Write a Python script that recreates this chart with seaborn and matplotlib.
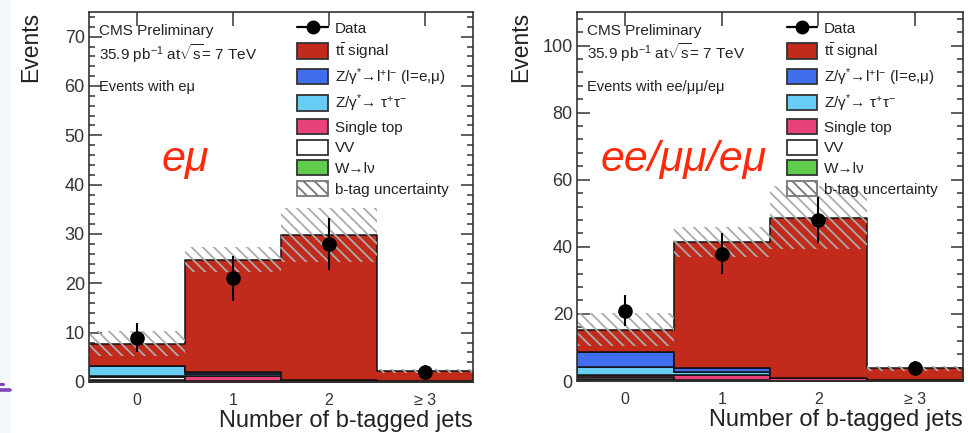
import numpy as np
import pandas as pd
import matplotlib
matplotlib.use("Agg")
import matplotlib.pyplot as plt
import seaborn as sns
from matplotlib.patches import Patch, Rectangle
from matplotlib.lines import Line2D
from matplotlib.ticker import MultipleLocator, FixedLocator

# ---------------- data ----------------
categories = ["0", "1", "2", "≥ 3"]
bins = [0, 1, 2, 3]
processes = ["tt", "Zll", "Ztt", "single", "VV", "W"]   # top -> bottom of stack
proc_labels = [r"t$\bar{\mathrm{t}}$ signal",
               r"Z/γ$^{*}$→l$^{+}$l$^{-}$ (l=e,μ)",
               r"Z/γ$^{*}$→ τ$^{+}$τ$^{-}$",
               "Single top", "VV", "W→lν"]
proc_colors = ["#c22a1b", "#3f6fee", "#67cdf5", "#e8417c", "#ffffff", "#5fcd4b"]

# left panel (e mu)
emu_tt = [4.5, 22.85, 29.3, 2.05]
emu_Zll = [0.15, 0.3, 0.0, 0.0]
emu_Ztt = [1.9, 0.5, 0.05, 0.0]
emu_single = [0.25, 0.9, 0.4, 0.1]
emu_VV = [0.6, 0.2, 0.05, 0.05]
emu_W = [0.4, 0.05, 0.0, 0.0]
emu_unc = [2.6, 2.5, 5.4, 0.4]
emu_data = [9, 21, 28, 2]
emu_err = [3.0, 4.6, 5.3, 1.4]

# right panel (ee/mumu/emu)
all_tt = [6.8, 37.55, 47.7, 3.55]
all_Zll = [4.4, 1.3, 0.1, 0.05]
all_Ztt = [2.3, 0.8, 0.05, 0.0]
all_single = [0.5, 1.5, 0.8, 0.15]
all_VV = [0.7, 0.3, 0.05, 0.05]
all_W = [0.6, 0.05, 0.0, 0.0]
all_unc = [4.9, 4.5, 9.3, 0.7]
all_data = [21, 38, 48, 4]
all_err = [4.6, 6.2, 6.9, 2.0]

# ---------------- style ----------------
sns.set_style("ticks")
plt.rcParams["font.family"] = ["Liberation Sans", "DejaVu Sans"]
plt.rcParams["mathtext.fontset"] = "custom"
plt.rcParams["mathtext.rm"] = "Liberation Sans"
plt.rcParams["mathtext.it"] = "Liberation Sans:italic"
plt.rcParams["mathtext.bf"] = "Liberation Sans:bold"
plt.rcParams["hatch.linewidth"] = 1.3

TXT = "#222222"
HATCH = "#ababab"

fig = plt.figure(figsize=(9.68, 4.33), dpi=100)
W, H = 968, 433

# slide-like strip on the left edge
fig.add_artist(Rectangle((0, 0), 10 / W, 1, transform=fig.transFigure,
                         facecolor="#f3f8fa", edgecolor="none", zorder=0))
fig.add_artist(Line2D([0, 10 / W], [1 - 390 / H, 1 - 390 / H], transform=fig.transFigure,
                      color="#7b44b8", lw=2.6))
fig.add_artist(Line2D([0, 3 / W], [1 - 384 / H, 1 - 384 / H], transform=fig.transFigure,
                      color="#7b44b8", lw=2.2))


def panel(rect, stacks, unc, data, err, ymax, major, minor, channel_txt, big_txt,
          big_x, ylab_x):
    ax = fig.add_axes(rect)
    df = pd.DataFrame({
        "bin": np.tile(bins, len(processes)),
        "process": np.repeat(processes, len(bins)),
        "events": np.concatenate(stacks),
    })
    sns.histplot(data=df, x="bin", weights="events", hue="process",
                 hue_order=processes, multiple="stack", discrete=True,
                 element="step", palette=dict(zip(processes, proc_colors)), alpha=1,
                 edgecolor="#111111", linewidth=1.1, legend=False, ax=ax)
    total = np.sum(np.array(stacks), axis=0)
    unc = np.array(unc)
    ax.bar(bins, 2 * unc, bottom=total - unc, width=1.0, facecolor="none",
           edgecolor=HATCH, hatch="\\\\\\", linewidth=0, zorder=3)
    ax.errorbar(bins, data, yerr=err, fmt="o", color="black", ms=9.5,
                elinewidth=1.5, capsize=0, zorder=6, clip_on=False)

    ax.set_xlim(-0.5, 3.5)
    ax.set_ylim(0, ymax)
    ax.xaxis.set_major_locator(FixedLocator(bins))
    ax.set_xticklabels(categories)
    ax.yaxis.set_major_locator(MultipleLocator(major))
    ax.yaxis.set_minor_locator(MultipleLocator(minor))
    ax.tick_params(axis="both", which="both", direction="in", top=True, right=True,
                   colors="#333333", width=1.1)
    ax.tick_params(axis="y", which="major", length=9, labelsize=13, pad=3)
    ax.tick_params(axis="y", which="minor", length=4.5)
    ax.tick_params(axis="x", which="major", length=10, labelsize=11.5, pad=8)
    ax.tick_params(axis="x", which="minor", length=0)
    for s in ax.spines.values():
        s.set_linewidth(1.2)
        s.set_color("#333333")
        s.set_zorder(7)

    ax.set_ylabel("Events", loc="top", fontsize=16.5, color=TXT)
    ax.yaxis.set_label_coords(ylab_x, 1.0)
    ax.set_xlabel("Number of b-tagged jets", loc="right", fontsize=17, color=TXT)
    ax.xaxis.set_label_coords(1.0, -0.075)

    ax.text(0.025, 0.949, "CMS Preliminary", transform=ax.transAxes, fontsize=11,
            va="center", ha="left", color=TXT)
    ax.text(0.025, 0.889, r"35.9 pb$^{-1}$ at$\sqrt{\mathrm{s}}$= 7 TeV",
            transform=ax.transAxes, fontsize=11, va="center", ha="left", color=TXT)
    ax.text(0.025, 0.797, channel_txt, transform=ax.transAxes, fontsize=10.5,
            va="center", ha="left", color=TXT)
    ax.text(big_x, 0.60, big_txt, transform=ax.transAxes, fontsize=31,
            style="italic", color="#ff2a0a", ha="center", va="center")

    handles = [Line2D([], [], color="black", marker="o", ms=9, lw=1.6)]
    for c in proc_colors:
        handles.append(Patch(facecolor=c, edgecolor="#333333", linewidth=1.3))
    handles.append(Patch(facecolor="white", edgecolor="#777777", hatch="\\\\\\",
                         linewidth=1.3))
    labels = ["Data"] + proc_labels + ["b-tag uncertainty"]
    leg = ax.legend(handles, labels, loc="upper left", bbox_to_anchor=(0.535, 0.985),
                    frameon=False, fontsize=11, handlelength=2.0, handleheight=1.15,
                    labelspacing=0.32, handletextpad=0.45, borderpad=0.2,
                    borderaxespad=0.0)
    for t in leg.get_texts():
        t.set_color(TXT)
    return ax


panel([89 / W, 1 - 382 / H, 384 / W, 370 / H],
      [emu_tt, emu_Zll, emu_Ztt, emu_single, emu_VV, emu_W],
      emu_unc, emu_data, emu_err, 75, 10, 2, "Events with eμ", "eμ", 0.25, -0.122)
panel([577 / W, 1 - 381 / H, 386 / W, 369 / H],
      [all_tt, all_Zll, all_Ztt, all_single, all_VV, all_W],
      all_unc, all_data, all_err, 110, 20, 4, "Events with ee/μμ/eμ", "ee/μμ/eμ",
      0.275, -0.117)

fig.savefig("out.png", dpi=100)
